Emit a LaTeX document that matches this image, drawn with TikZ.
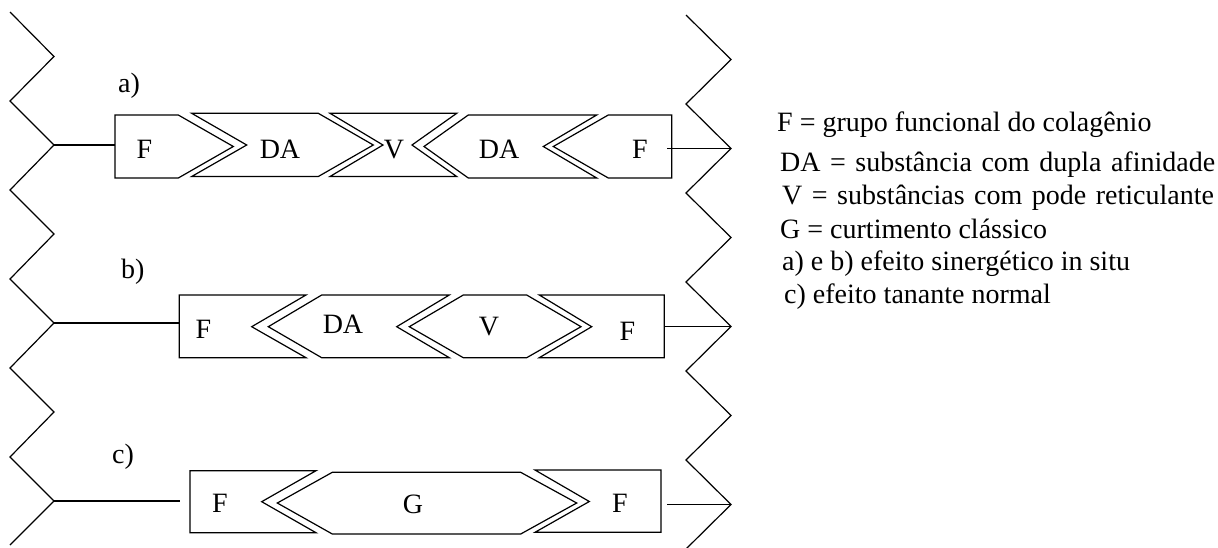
\documentclass[tikz,border=0pt]{standalone}
\usepackage{fontspec}
\setmainfont{Liberation Serif}
\begin{document}
\begin{tikzpicture}[x=1pt,y=-1pt,line join=miter,
  every node/.style={inner sep=0pt,font=\fontsize{28}{32}\selectfont},
  shp/.style={draw=black,line width=1.2pt},
  conn/.style={draw=black,line width=1.2pt},
  lbl/.style={anchor=base},
  leg/.style={anchor=base west},
  legwide/.style={anchor=base west,font={\fontsize{28}{32}\selectfont\spaceskip=9.5pt\relax}}]
\useasboundingbox (0,0) rectangle (1218,547);
% left chain
\coordinate (L0) at (10,12);   \coordinate (L1) at (54,56.5);
\coordinate (L2) at (10,101);  \coordinate (L3) at (54,145);
\coordinate (L4) at (10,190);  \coordinate (L5) at (54,234);
\coordinate (L6) at (10,279);  \coordinate (L7) at (54,323);
\coordinate (L8) at (10,368);  \coordinate (L9) at (54,412);
\coordinate (L10) at (10,457); \coordinate (L11) at (54,501);
\coordinate (L12) at (10,545);
\draw[shp] (L0)--(L1)--(L2)--(L3)--(L4)--(L5)--(L6)--(L7)--(L8)--(L9)--(L10)--(L11)--(L12);
% right chain
\coordinate (R0) at (686,15);   \coordinate (R1) at (731,59.5);
\coordinate (R2) at (686,104);  \coordinate (R3) at (731,148.5);
\coordinate (R4) at (686,193);  \coordinate (R5) at (731,237.5);
\coordinate (R6) at (686,282);  \coordinate (R7) at (731,326.5);
\coordinate (R8) at (686,371);  \coordinate (R9) at (731,415.5);
\coordinate (R10) at (686,460); \coordinate (R11) at (731,504.5);
\coordinate (R12) at (686,549);
\draw[shp] (R0)--(R1)--(R2)--(R3)--(R4)--(R5)--(R6)--(R7)--(R8)--(R9)--(R10)--(R11)--(R12);

% ---- row a ----
\draw[shp] (115,115)--(178.3,115)--(233.3,146.5)--(178.3,178)--(115,178)--cycle;
\draw[shp] (191.7,113.3)--(318.3,113.3)--(373.3,145)--(318.3,176.5)--(191.7,176.5)--(246.7,145)--cycle;
\draw[shp] (330,113.3)--(456.7,113.3)--(412,145)--(456.7,176.5)--(330,176.5)--(383,145)--cycle;
\draw[shp] (468.3,115)--(596.7,115)--(543.3,146.5)--(596.7,178)--(468.3,178)--(424,146.5)--cycle;
\draw[shp] (608.3,115)--(671.7,115)--(671.7,178)--(608.3,178)--(553.3,146.5)--cycle;
\coordinate (aL) at (115,145);
\coordinate (aR) at (667,148.5);
\draw[conn] (L3)--(aL);
\draw[conn] (aR)--(R3);
\node[lbl] (aF1) at (144.5,158) {F};
\node[lbl] (aDA1) at (280,158) {DA};
\node[lbl] (aV) at (394,158) {V};
\node[lbl] (aDA2) at (499,158) {DA};
\node[lbl] (aF2) at (640,158) {F};
\node[leg] (la) at (118,92) {a)};

% ---- row b ----
\draw[shp] (179.3,295)--(306,295)--(251.7,326.7)--(306,357.7)--(179.3,357.7)--cycle;
\draw[shp] (321.7,295)--(449.3,295)--(396.7,326.7)--(449.3,357.7)--(321.7,357.7)--(268.3,326.7)--cycle;
\draw[shp] (463.3,295)--(526.7,295)--(581,326.7)--(526.7,357.7)--(463.3,357.7)--(409.3,326.7)--cycle;
\draw[shp] (539.3,295)--(664.3,295)--(664.3,357.7)--(539.3,357.7)--(591.7,326.7)--cycle;
\coordinate (bL) at (179.3,323);
\coordinate (bR) at (664.3,326.5);
\draw[conn] (L7)--(bL);
\draw[conn] (bR)--(R7);
\node[lbl] (bF1) at (203.5,338) {F};
\node[lbl] (bDA) at (343,333) {DA};
\node[lbl] (bV) at (489,335) {V};
\node[lbl] (bF2) at (627.5,340) {F};
\node[leg] (lb) at (121,278) {b)};

% ---- row c ----
\draw[shp] (190,470.7)--(316,470.7)--(261.7,501.7)--(316,532.7)--(190,532.7)--cycle;
\draw[shp] (332.3,472.3)--(520.7,472.3)--(576.7,503)--(520.7,534)--(332.3,534)--(277.3,503)--cycle;
\draw[shp] (535,470)--(661,470)--(661,532.3)--(535,532.3)--(589.3,501.5)--cycle;
\coordinate (cL) at (180,501);
\coordinate (cR) at (667.3,504.5);
\draw[conn] (L11)--(cL);
\draw[conn] (cR)--(R11);
\node[lbl] (cF1) at (220,512) {F};
\node[lbl] (cG) at (413,513) {G};
\node[lbl] (cF2) at (620,512) {F};
\node[leg] (lc) at (112,463) {c)};

% ---- legend ----
\node[leg] (g1) at (777,131) {F = grupo funcional do colagênio};
\node[legwide] (g2) at (780,171) {DA = substância com dupla afinidade};
\node[legwide] (g3) at (782,204) {V = substâncias com pode reticulante};
\node[leg] (g4) at (780,238) {G = curtimento clássico};
\node[leg] (g5) at (782,270) {a) e b) efeito sinergético in situ};
\node[leg] (g6) at (784,303) {c) efeito tanante normal};
\end{tikzpicture}
\end{document}
